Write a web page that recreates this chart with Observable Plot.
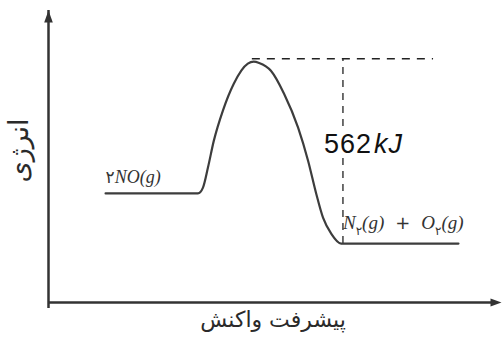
<!DOCTYPE html>
<html>
<head>
<meta charset="utf-8">
<script src="https://cdn.jsdelivr.net/npm/d3@7"></script>
<script src="https://cdn.jsdelivr.net/npm/@observablehq/plot@0.6"></script>
<style>
  html, body { margin: 0; padding: 0; background: #fff; }
  #chart svg { display: block; }
</style>
</head>
<body>
<div id="chart"></div>
<script>
// Reaction coordinate (0–100) and energy (kJ, products = 0)
const progress = [12.6, 33.0, 34.1, 35.2, 36.5, 38.5, 40.9, 44.0, 45.3, 46.5, 49.1, 52.0, 55.1, 57.3, 59.1, 60.6, 62.4, 64.6, 90.5];
const energy   = [155, 155, 173, 235, 318, 411, 494, 556, 562, 558, 534, 463, 358, 256, 154, 80, 31, 0, 0];

// Energy-gap guide (peak level and the 562 kJ drop)
const gapTop = [571];
const gapSpan = [45.0, 85.0];
const gapAt = [65.0];
const gapBottom = [0];

// Labels
const reactantLabel = "۲NO(g)";
const productLabel = "N۲(g) + O۲(g)";
const gapLabel = "562kJ";
const yTitle = "انرژی";
const xTitle = "پیشرفت واکنش";

// Domains of the (hidden) scales
const xDomain = [0, 100];
const yDomain = [-182, 720];

const curve = progress.map((p, i) => ({progress: p, energy: energy[i]}));

const arrowHead = {
  draw(ctx, size) {
    const s = Math.sqrt(size / Math.PI);
    ctx.moveTo(0, 0);
    ctx.lineTo(s * 0.36, s);
    ctx.lineTo(-s * 0.36, s);
    ctx.closePath();
  }
};

const axisColor = "#333";
const lineColor = "#3d3d3d";

const chart = Plot.plot({
  width: 502,
  height: 344,
  marginLeft: 48,
  marginRight: 1,
  marginTop: 10,
  marginBottom: 42,
  x: {domain: xDomain, axis: null},
  y: {domain: yDomain, axis: null},
  style: {background: "#fff", overflow: "visible"},
  marks: [
    // axes
    Plot.ruleX([xDomain[0]], {y1: yDomain[0], y2: yDomain[1], stroke: axisColor, strokeWidth: 2.5, insetTop: 6}),
    Plot.ruleY([yDomain[0]], {x1: xDomain[0], x2: xDomain[1], stroke: axisColor, strokeWidth: 2.5, insetRight: 6}),
    Plot.dot([0], {x: xDomain[0], y: yDomain[1], symbol: arrowHead, r: 12, fill: axisColor, stroke: null}),
    Plot.dot([0], {x: xDomain[1], y: yDomain[0], symbol: arrowHead, r: 11, rotate: 90, fill: axisColor, stroke: null}),
    // dashed guides
    Plot.ruleY(gapTop, {x1: gapSpan[0], x2: gapSpan[1], stroke: "#222", strokeWidth: 1.3, strokeDasharray: "8,7"}),
    Plot.ruleX(gapAt, {y1: gapBottom[0], y2: gapTop[0], stroke: "#222", strokeWidth: 1.3, strokeDasharray: "7,6"}),
    // energy profile
    Plot.line(curve, {x: "progress", y: "energy", curve: "monotone-x", stroke: lineColor, strokeWidth: 2.2}),
    // labels
    Plot.text([gapLabel], {x: gapAt[0], y: 305, text: d => d, textAnchor: "start", dx: -19, fontSize: 27,
      fontFamily: "Liberation Sans, Arial, sans-serif", fill: "#111", stroke: "#fff", strokeWidth: 8, className: "rich gap"}),
    Plot.text([reactantLabel], {x: progress[0], y: energy[0], text: d => d, textAnchor: "start", dy: -16, fontSize: 18,
      fontFamily: "Liberation Serif, Times New Roman, serif", fill: "#333", className: "rich chem"}),
    Plot.text([productLabel], {x: gapAt[0], y: 0, text: d => d, textAnchor: "start", dx: 0, dy: -21, fontSize: 19,
      fontFamily: "Liberation Serif, Times New Roman, serif", fill: "#333", className: "rich chem"}),
    Plot.text([yTitle], {frameAnchor: "left", dx: -29, dy: 26, rotate: -90, text: d => d, fontSize: 27,
      fontFamily: "DejaVu Sans, sans-serif", fill: "#2a2a2a"}),
    Plot.text([xTitle], {frameAnchor: "bottom", dy: 24, dx: -2, text: d => d, fontSize: 22,
      fontFamily: "DejaVu Sans, sans-serif", fill: "#2a2a2a"})
  ]
});

// Rich text: Latin letters italic, Persian digits after a letter become subscripts
function richify(textEl, isChem) {
  const str = textEl.textContent;
  const fs = parseFloat(getComputedStyle(textEl).fontSize) || 18;
  while (textEl.firstChild) textEl.removeChild(textEl.firstChild);
  const ns = "http://www.w3.org/2000/svg";
  let pendingDx = 0, shift = 0;
  const chars = Array.from(str);
  let runs = [];
  chars.forEach((c, i) => {
    let type;
    if (c === " ") type = "space";
    else if (/[۰-۹]/.test(c) && i > 0 && /[A-Za-z]/.test(chars[i - 1])) type = "sub";
    else if (/[A-Za-z()]/.test(c)) type = "ital";
    else type = "plain";
    const last = runs[runs.length - 1];
    if (last && last.type === type && type !== "space") last.text += c;
    else runs.push({type, text: c});
  });
  runs.forEach(r => {
    if (r.type === "space") { pendingDx += isChem ? 11 : 4; return; }
    const t = document.createElementNS(ns, "tspan");
    t.textContent = r.text;
    let dy = 0;
    if (r.type === "sub") {
      t.setAttribute("font-size", Math.round(fs * 0.62));
      t.setAttribute("font-style", "normal");
      t.setAttribute("font-family", "DejaVu Sans, sans-serif");
      dy = 6 - shift; shift = 6;
    } else {
      if (r.type === "ital") t.setAttribute("font-style", "italic");
      if (r.type === "plain" && isChem) {
        t.setAttribute("font-family", "DejaVu Sans, sans-serif");
        t.setAttribute("font-size", Math.round(fs * 0.95));
      }
      dy = -shift; shift = 0;
    }
    if (dy) t.setAttribute("dy", dy);
    let dx = pendingDx + (r.type === "ital" && !isChem ? 2 : 0);
    if (dx) t.setAttribute("dx", dx);
    pendingDx = 0;
    textEl.appendChild(t);
  });
}

document.getElementById("chart").appendChild(chart);
chart.querySelectorAll("g.rich text").forEach(el => {
  richify(el, el.closest("g").classList.contains("chem"));
});
chart.querySelectorAll("g.gap text").forEach(el => el.setAttribute("letter-spacing", "1"));
</script>
</body>
</html>
